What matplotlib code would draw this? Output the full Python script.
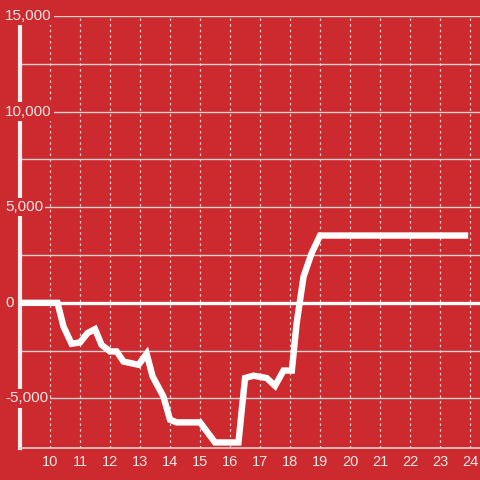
import matplotlib
matplotlib.use("Agg")
import matplotlib.pyplot as plt
import matplotlib.transforms as mtransforms

hours = [9.0, 10.25, 10.45, 10.72, 11.0, 11.25, 11.5, 11.72, 12.0, 12.22, 12.45, 12.95,
         13.22, 13.42, 13.78, 14.0, 14.22, 15.0, 15.5, 16.28, 16.5, 16.78, 17.22, 17.5,
         17.78, 18.06, 18.22, 18.45, 18.72, 19.0, 23.83]
values = [0, 0, -1240, -2140, -2070, -1580, -1375, -2200, -2540, -2540, -3070, -3240,
          -2660, -3850, -4900, -6110, -6250, -6250, -7300, -7300, -3930, -3810, -3930, -4340,
          -3540, -3540, -1060, 1370, 2600, 3520, 3520]
x_ticks = list(range(10, 25))
y_ticks = [-5000, 0, 5000, 10000, 15000]
y_labels = ["-5,000", "0", "5,000", "10,000", "15,000"]

bg = "#cc2a2e"
grid_c = "#d9d0d0"
txt_c = "#f3e6e6"

fig = plt.figure(figsize=(4.8, 4.8), dpi=100)
fig.patch.set_facecolor(bg)
ax = fig.add_axes([20/480, 1 - 448/480, 1 - 20/480, (448 - 16)/480])
ax.set_facecolor(bg)
ax.set_xlim(9.0, 24.33)
ax.set_ylim(-7590, 15000)

for s in ["top", "right", "left"]:
    ax.spines[s].set_visible(False)
ax.spines["bottom"].set_color(grid_c)
ax.spines["bottom"].set_linewidth(1.2)

# grid
for yv in range(-5000, 15001, 2500):
    if yv == 0:
        continue
    ax.axhline(yv, color=grid_c, lw=1.0, zorder=1)
for xv in x_ticks:
    ax.axvline(xv, color=grid_c, lw=0.9, ls=(0, (2, 2.5)), zorder=1)
ax.axhline(0, color="white", lw=2.4, zorder=2)
ax.axvline(9.0, color="#f2eeee", lw=3, zorder=2, clip_on=False)

ax.plot(hours, values, color="white", lw=4.6, solid_joinstyle="miter", zorder=3)

ax.set_xticks(x_ticks)
ax.set_xticklabels([str(v) for v in x_ticks])
ax.tick_params(axis="x", length=0, pad=5, labelsize=10.5, labelcolor=txt_c)
ax.set_yticks([])
for lab in ax.get_xticklabels():
    lab.set_family(["Liberation Sans", "DejaVu Sans"])

trans = mtransforms.blended_transform_factory(fig.transFigure, ax.transData)
for yv, lab in zip(y_ticks, y_labels):
    ax.text(5/480, yv, lab, transform=trans, ha="left", va="center", fontsize=11,
            color=txt_c, family=["Liberation Sans", "DejaVu Sans"], zorder=5, clip_on=False,
            bbox=dict(facecolor=bg, edgecolor="none", pad=1.5))

fig.savefig("out.png", dpi=100, facecolor=bg)
